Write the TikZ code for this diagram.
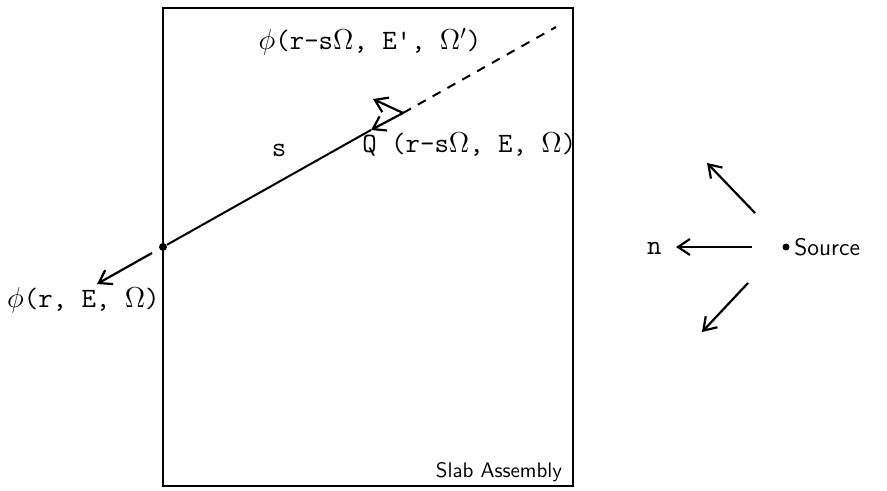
\documentclass[tikz,border=0pt]{standalone}
\usetikzlibrary{arrows.meta}
\tikzstyle{ray}   = [-{Straight Barb[length=6pt,width=8pt]}, line width=1.1pt]
\tikzstyle{path}  = [line width=1pt]
\tikzstyle{dot}   = [circle, fill=black, inner sep=0pt, minimum size=4pt]
\tikzstyle{label} = [font=\fontsize{14}{16}\selectfont\ttfamily, inner sep=0pt]
\tikzstyle{sans}  = [font=\fontsize{12}{14}\selectfont\sffamily, inner sep=0pt]
\begin{document}
\begin{tikzpicture}[x=0.5pt, y=-0.5pt]
  \useasboundingbox (0,0) rectangle (887,491);

  % slab
  \draw[line width=1.2pt] (163,8) rectangle (573,486);
  \node (slab) [sans, font=\fontsize{10.5}{12}\selectfont\sffamily, anchor=base] at (499,477) {Slab Assembly};

  % ray through the slab
  \node (P) [dot] at (163,247) {};
  \coordinate (A) at (371,130);
  \coordinate (V) at (403,113);
  \coordinate (B) at (373,99);
  \coordinate (D) at (556,27);
  \coordinate (out0) at (152,253);
  \coordinate (out1) at (97,284);
  \draw [path] (P) -- (A);
  \draw [ray] (V) -- (A);
  \draw [ray] (V) -- (B);
  \draw [path, dash pattern=on 4.5pt off 4pt] (V) -- (D);
  \draw [ray] (out0) -- (out1);

  \node (phiin) [label] at (370,42) {$\phi$(r-s$\Omega$, E', $\Omega'$)};
  \node (src)   [label, anchor=west] at (362,145) {Q (r-s$\Omega$, E, $\Omega$)};
  \node (s)     [label] at (279,150) {s};
  \node (phiout) [label, anchor=east] at (160,300) {$\phi$(r, E, $\Omega$)};

  % point source
  \node (S) [dot, minimum size=3.5pt] at (786,247) {};
  \node (source) [sans, anchor=west] at (S.east) {\,Source};
  \coordinate (m0) at (752,247);
  \coordinate (m1) at (676,247);
  \coordinate (u0) at (755,213);
  \coordinate (u1) at (707,163);
  \coordinate (l0) at (748,283);
  \coordinate (l1) at (702,332);
  \draw [ray] (m0) -- (m1);
  \draw [ray] (u0) -- (u1);
  \draw [ray] (l0) -- (l1);
  \node (n) [label, anchor=east] at (662,248) {n};
\end{tikzpicture}
\end{document}
